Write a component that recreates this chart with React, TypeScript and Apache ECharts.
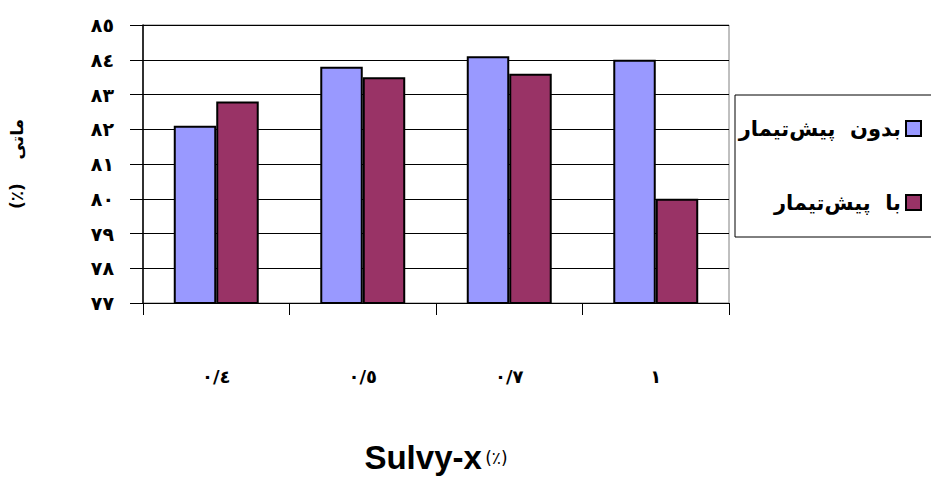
import React, { useEffect, useRef } from "react";
import * as echarts from "echarts";

const categories = ["٠/٤", "٠/٥", "٠/٧", "١"];
const seriesNames = ["بدون  پیش‌تیمار", "با  پیش‌تیمار"];
const withoutPretreat = [82.1, 83.8, 84.1, 84.0];
const withPretreat = [82.8, 83.5, 83.6, 80.0];
const yTickValues = [77, 78, 79, 80, 81, 82, 83, 84, 85];
const yTickLabels = ["٧٧", "٧٨", "٧٩", "٨٠", "٨١", "٨٢", "٨٣", "٨٤", "٨٥"];
const yTitle = "(٪)    ماتی";
const xTitleMain = "Sulvy-x";
const xTitleUnit = "(٪)";

const arabicFont = "'DejaVu Sans', 'Noto Sans', sans-serif";

export default function App() {
  const ref = useRef<HTMLDivElement>(null);
  useEffect(() => {
    if (!ref.current) return;
    const chart = echarts.init(ref.current, undefined, { renderer: "svg" });
    chart.setOption({
      animation: false,
      backgroundColor: "#ffffff",
      grid: {
        left: 143,
        right: 202,
        top: 25,
        bottom: 177,
        show: true,
        borderColor: "#808080",
        borderWidth: 1,
        backgroundColor: "transparent",
        outerBoundsMode: "none",
        containLabel: false,
      },
      legend: {
        data: seriesNames,
        orient: "vertical",
        right: 4,
        top: 113,
        align: "right",
        itemWidth: 15,
        itemHeight: 15,
        itemGap: 53,
        icon: "rect",
        textStyle: {
          fontFamily: arabicFont,
          fontWeight: "bold",
          fontSize: 21,
          color: "#000",
        },
      },
      graphic: [
        {
          type: "rect",
          shape: { x: 735, y: 95, width: 230, height: 142 },
          style: { fill: "none", stroke: "#000", lineWidth: 1 },
          z: 0,
        },
      ],
      xAxis: {
        type: "category",
        data: categories,
        name: `{a|${xTitleMain}}{s| }{b|${xTitleUnit}}`,
        nameLocation: "middle",
        nameGap: 138,
        nameTextStyle: {
          rich: {
            a: {
              fontFamily: "'Liberation Sans', Arial, sans-serif",
              fontWeight: "bold",
              fontSize: 33,
              color: "#000",
            },
            s: { fontSize: 12 },
            b: { fontFamily: arabicFont, fontSize: 17, color: "#000" },
          },
        },
        axisLine: { show: true, lineStyle: { color: "#000", width: 1 } },
        axisTick: { show: true, length: 12, lineStyle: { color: "#000" } },
        axisLabel: {
          margin: 64,
          fontFamily: arabicFont,
          fontWeight: "bold",
          fontSize: 18,
          color: "#000",
        },
      },
      yAxis: {
        type: "value",
        min: 77,
        max: 85,
        interval: 1,
        name: yTitle,
        nameLocation: "middle",
        nameRotate: 90,
        nameGap: 118,
        nameTextStyle: {
          fontFamily: arabicFont,
          fontWeight: "bold",
          fontSize: 17,
          color: "#000",
        },
        axisLine: { show: true, lineStyle: { color: "#000", width: 1.5 } },
        axisTick: { show: true, length: 13, lineStyle: { color: "#000" } },
        axisLabel: {
          margin: 29,
          fontFamily: arabicFont,
          fontWeight: "bold",
          fontSize: 19,
          color: "#000",
          formatter: (v: number) => {
            const i = yTickValues.indexOf(v);
            return i >= 0 ? yTickLabels[i] : "";
          },
        },
        splitLine: { show: true, lineStyle: { color: "#000", width: 1 } },
      },
      series: [
        {
          name: seriesNames[0],
          type: "bar",
          data: withoutPretreat,
          barGap: "0%",
          barCategoryGap: "42%",
          itemStyle: { color: "#9999FF", borderColor: "#000", borderWidth: 2 },
        },
        {
          name: seriesNames[1],
          type: "bar",
          data: withPretreat,
          itemStyle: { color: "#993366", borderColor: "#000", borderWidth: 2 },
        },
      ],
    });
    return () => chart.dispose();
  }, []);
  return <div ref={ref} style={{ width: 931, height: 480, position: "absolute", left: 0, top: 0 }} />;
}
